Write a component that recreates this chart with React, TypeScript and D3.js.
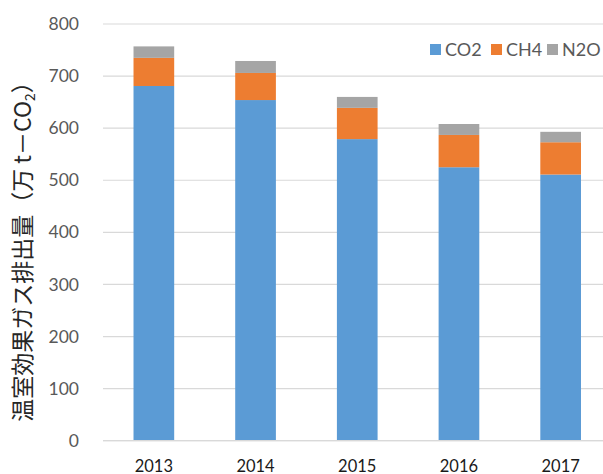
import React from "react";
import * as d3 from "d3";

const years = ["2013", "2014", "2015", "2016", "2017"];
const co2 = [681, 654, 579, 525, 511];
const ch4 = [54, 52, 60, 62, 62];
const n2o = [22, 23, 21, 21, 20];
const seriesNames = ["CO2", "CH4", "N2O"];
const seriesColors = ["#5B9BD5", "#ED7D31", "#A5A5A5"];
const yTicks = [0, 100, 200, 300, 400, 500, 600, 700, 800];

const W = 603;
const H = 474;

export default function App() {
  const x = d3.scaleBand<string>().domain(years).range([103, 611.5]).paddingInner(0.6).paddingOuter(0.3);
  const y = d3.scaleLinear().domain([0, 800]).range([440.7, 24]);

  const rows = years.map((yr, i) => ({ year: yr, CO2: co2[i], CH4: ch4[i], N2O: n2o[i] }));
  const stack = d3.stack<any>().keys(seriesNames)(rows);

  const font = "Lato, 'Noto Sans', sans-serif";

  return (
    <svg width={W} height={H} style={{ position: "absolute", left: 0, top: 0, background: "#fff" }}>
      {yTicks.map((t) => (
        <g key={t}>
          <line x1={103} x2={603} y1={y(t)} y2={y(t)} stroke="#D9D9D9" strokeWidth={1.2} />
          <text x={79} y={y(t)} dy="0.35em" textAnchor="end" fontFamily={font} fontSize={17.5} fill="#595959">
            {t}
          </text>
        </g>
      ))}
      {stack.map((s, si) =>
        s.map((d, i) => (
          <rect
            key={si + "-" + i}
            x={x(years[i])!}
            width={x.bandwidth()}
            y={y(d[1])}
            height={y(d[0]) - y(d[1])}
            fill={seriesColors[si]}
          />
        ))
      )}
      <line x1={103} x2={603} y1={y(0)} y2={y(0)} stroke="#D9D9D9" strokeWidth={1.2} />
      {years.map((yr) => (
        <text key={yr} x={x(yr)! + x.bandwidth() / 2} y={471.5} textAnchor="middle" fontFamily={font} fontSize={16.5} fill="#1a1a1a">
          {yr}
        </text>
      ))}
      {seriesNames.map((n, i) => {
        const lx = [430, 491, 547][i];
        return (
          <g key={n}>
            <rect x={lx} y={44} width={11} height={11} fill={seriesColors[i]} />
            <text x={lx + 15} y={49.5} dy="0.35em" fontFamily={font} fontSize={18} fill="#595959">
              {n}
            </text>
          </g>
        );
      })}
      <text
        transform="translate(31,246) rotate(-90)"
        textAnchor="middle"
        fontFamily="'Noto Sans CJK JP', sans-serif"
        fontSize={23}
        fill="#262626"
      >
        温室効果ガス排出量（万 t－CO<tspan fontSize={14} dy="4">2</tspan><tspan dy="-4">）</tspan>
      </text>
    </svg>
  );
}
